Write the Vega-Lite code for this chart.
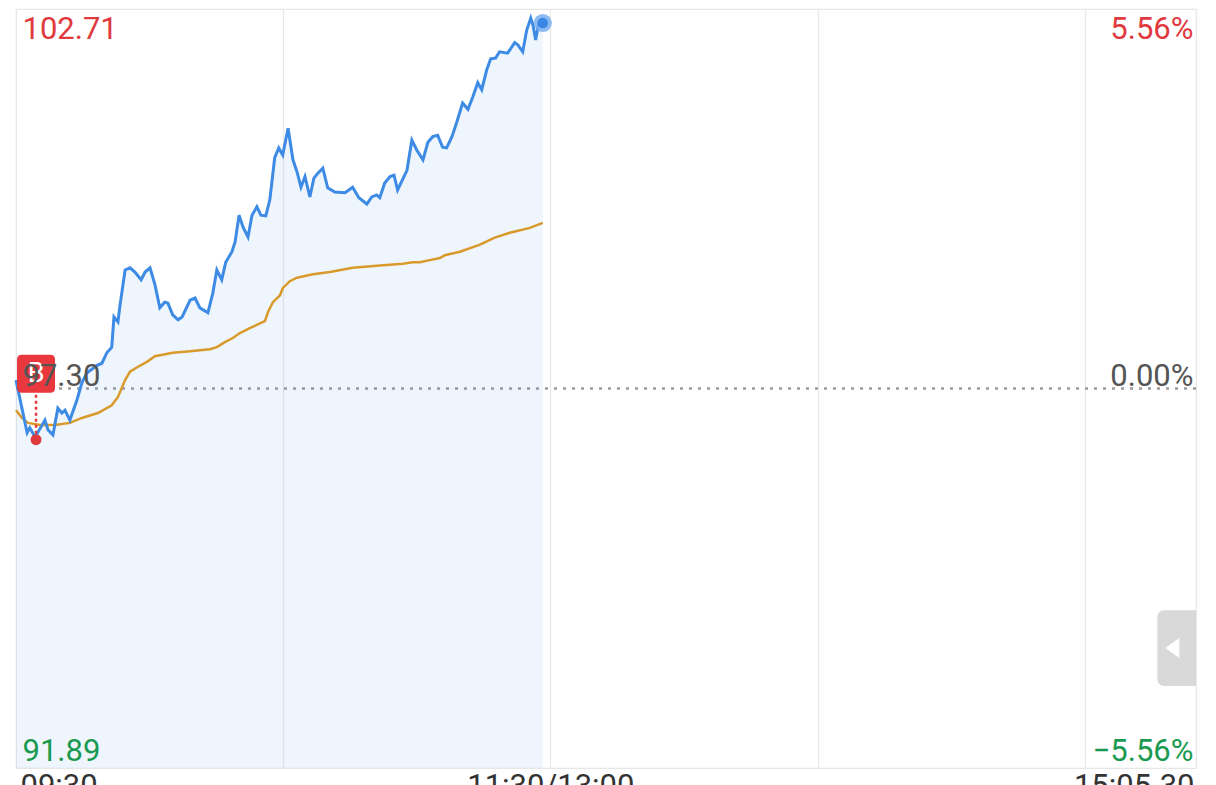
{
  "$schema": "https://vega.github.io/schema/vega-lite/v6.json",
  "width": 1180,
  "height": 759,
  "autosize": {"type": "none"},
  "padding": {"left": 16, "top": 9, "right": 20, "bottom": 17},
  "background": "white",
  "config": {"view": {"stroke": "#e6e6e6", "strokeWidth": 1.2}, "font": "Roboto"},
  "datasets": {
    "price": [
      {"t":0,"p":97.42},{"t":2.5,"p":96.67},{"t":3.1,"p":96.74},{"t":4.3,"p":96.61},{"t":6.5,"p":96.85},{"t":7.2,"p":96.71},{"t":8.3,"p":96.64},{"t":9.4,"p":97.02},{"t":10.3,"p":96.95},{"t":11.0,"p":96.99},{"t":12.1,"p":96.85},{"t":13.7,"p":97.14},{"t":14.8,"p":97.38},{"t":15.9,"p":97.52},{"t":18.2,"p":97.63},{"t":19.3,"p":97.66},{"t":20.4,"p":97.81},{"t":21.5,"p":97.89},{"t":22.0,"p":98.32},{"t":22.9,"p":98.25},{"t":23.3,"p":98.46},{"t":24.5,"p":98.99},{"t":25.6,"p":99.02},{"t":26.7,"p":98.96},{"t":28.1,"p":98.85},{"t":29.0,"p":98.96},{"t":30.1,"p":99.02},{"t":31.2,"p":98.78},{"t":32.3,"p":98.45},{"t":33.4,"p":98.53},{"t":34.1,"p":98.52},{"t":35.2,"p":98.35},{"t":36.4,"p":98.28},{"t":37.3,"p":98.32},{"t":39.1,"p":98.56},{"t":40.2,"p":98.59},{"t":41.3,"p":98.45},{"t":43.1,"p":98.38},{"t":44.2,"p":98.66},{"t":45.1,"p":98.99},{"t":46.2,"p":98.85},{"t":47.1,"p":99.10},{"t":48.5,"p":99.25},{"t":49.2,"p":99.39},{"t":50.1,"p":99.77},{"t":51.0,"p":99.60},{"t":52.1,"p":99.46},{"t":53.0,"p":99.77},{"t":54.1,"p":99.89},{"t":55.0,"p":99.77},{"t":56.1,"p":99.76},{"t":57.0,"p":99.99},{"t":58.1,"p":100.59},{"t":59.0,"p":100.73},{"t":59.9,"p":100.63},{"t":61.1,"p":101.01},{"t":62.2,"p":100.56},{"t":63.1,"p":100.39},{"t":64.0,"p":100.17},{"t":64.9,"p":100.32},{"t":66.0,"p":100.03},{"t":66.9,"p":100.30},{"t":67.8,"p":100.37},{"t":68.9,"p":100.44},{"t":70.0,"p":100.16},{"t":71.6,"p":100.10},{"t":73.9,"p":100.09},{"t":75.6,"p":100.17},{"t":77.0,"p":100.02},{"t":78.8,"p":99.93},{"t":79.9,"p":100.03},{"t":81.0,"p":100.06},{"t":81.7,"p":100.02},{"t":82.8,"p":100.23},{"t":84.0,"p":100.32},{"t":84.9,"p":100.34},{"t":85.7,"p":100.13},{"t":87.8,"p":100.41},{"t":88.9,"p":100.84},{"t":90.0,"p":100.70},{"t":91.4,"p":100.56},{"t":92.5,"p":100.81},{"t":93.6,"p":100.89},{"t":94.7,"p":100.91},{"t":95.8,"p":100.74},{"t":96.7,"p":100.73},{"t":97.9,"p":100.89},{"t":99.0,"p":101.10},{"t":100.3,"p":101.37},{"t":101.5,"p":101.28},{"t":102.6,"p":101.46},{"t":103.7,"p":101.66},{"t":104.6,"p":101.56},{"t":105.7,"p":101.84},{"t":106.6,"p":102.00},{"t":107.7,"p":102.01},{"t":108.6,"p":102.10},{"t":110.4,"p":102.08},{"t":112.0,"p":102.23},{"t":112.7,"p":102.20},{"t":113.8,"p":102.10},{"t":114.7,"p":102.41},{"t":115.6,"p":102.58},{"t":116.1,"p":102.48},{"t":116.7,"p":102.27},{"t":117.4,"p":102.51},{"t":118.3,"p":102.51}
    ],
    "avg": [
      {"t":0,"p":96.99},{"t":1.35,"p":96.88},{"t":2.7,"p":96.81},{"t":5.4,"p":96.78},{"t":8.75,"p":96.78},{"t":12.1,"p":96.81},{"t":14.8,"p":96.88},{"t":18.4,"p":96.95},{"t":21.5,"p":97.06},{"t":22.9,"p":97.18},{"t":24.5,"p":97.42},{"t":25.6,"p":97.54},{"t":27.4,"p":97.61},{"t":29.4,"p":97.68},{"t":31.2,"p":97.76},{"t":35.2,"p":97.81},{"t":39.1,"p":97.83},{"t":43.5,"p":97.86},{"t":45.1,"p":97.89},{"t":46.9,"p":97.96},{"t":48.7,"p":98.02},{"t":50.3,"p":98.09},{"t":52.5,"p":98.16},{"t":55.9,"p":98.26},{"t":56.6,"p":98.39},{"t":57.7,"p":98.53},{"t":59.3,"p":98.63},{"t":59.9,"p":98.73},{"t":61.5,"p":98.83},{"t":63.1,"p":98.88},{"t":66.7,"p":98.93},{"t":70.5,"p":98.96},{"t":75.6,"p":99.02},{"t":81.0,"p":99.05},{"t":86.9,"p":99.08},{"t":89.1,"p":99.10},{"t":90.7,"p":99.10},{"t":92.9,"p":99.13},{"t":95.2,"p":99.16},{"t":96.3,"p":99.20},{"t":99.7,"p":99.25},{"t":104.2,"p":99.35},{"t":107.5,"p":99.45},{"t":110.9,"p":99.52},{"t":115.4,"p":99.59},{"t":118.3,"p":99.66}
    ]
  },
  "layer": [
    {
      "data": {"values": [{}]},
      "mark": {"type": "rule", "strokeDash": [3, 6], "strokeWidth": 2.5, "color": "#9b9b9b"},
      "encoding": {
        "y": {
          "datum": 0, "type": "quantitative",
          "scale": {"domain": [-5.56, 5.56], "nice": false, "zero": false},
          "axis": {
            "orient": "right", "title": null, "values": [-5.56, 0, 5.56],
            "labelExpr": "format(datum.value, '.2f') + '%'",
            "domain": false, "ticks": false, "tickSize": 0, "grid": false,
            "labelAlign": "right", "labelPadding": -3, "labelFont": "Roboto", "labelFontSize": 31,
            "labelColor": {"condition": [{"test": "datum.value > 1", "value": "#e0393e"}, {"test": "datum.value < -1", "value": "#1a9a50"}], "value": "#555555"},
            "labelBaseline": {"condition": {"test": "datum.value > 1", "value": "top"}, "value": "alphabetic"},
            "labelOffset": {"condition": [{"test": "datum.value > 1", "value": 5}, {"test": "datum.value < -1", "value": -8}], "value": -3},
            "labelOverlap": false, "labelBound": false, "zindex": 1
          }
        }
      }
    },
    {
      "layer": [
        {
          "data": {"name": "price"},
          "mark": {"type": "area", "color": "#3d8be4", "opacity": 0.09},
          "encoding": {
            "x": {
              "field": "t", "type": "quantitative",
              "scale": {"domain": [0, 265], "nice": false, "zero": false},
              "axis": {
                "orient": "bottom", "title": null, "values": [0, 60, 120, 180, 240, 265],
                "labelExpr": "datum.value == 0 ? '09:30' : datum.value == 120 ? '11:30/13:00' : datum.value == 265 ? '15:05-30' : ''",
                "domain": false, "ticks": false, "tickSize": 0, "labelPadding": 3,
                "labelAlign": {"condition": [{"test": "datum.value == 0", "value": "left"}, {"test": "datum.value > 250", "value": "right"}], "value": "center"},
                "labelOffset": {"condition": [{"test": "datum.value == 0", "value": 4}, {"test": "datum.value > 250", "value": -2}], "value": 0},
                "labelBaseline": "top", "labelFont": "Roboto", "labelFontSize": 31, "labelColor": "#333333",
                "labelOverlap": false, "labelBound": false, "labelFlush": false,
                "grid": true,
                "gridColor": {"condition": {"test": "datum.value == 0 || datum.value == 265", "value": "transparent"}, "value": "#e8e8e8"},
                "gridWidth": 1.2
              }
            },
            "y": {
              "field": "p", "type": "quantitative",
              "scale": {"domain": [91.89, 102.71], "nice": false, "zero": false},
              "axis": {
                "orient": "left", "title": null, "values": [91.89, 97.3, 102.71], "format": ".2f",
                "domain": false, "ticks": false, "tickSize": 0, "grid": false,
                "labelAlign": "left", "labelPadding": -6, "labelFont": "Roboto", "labelFontSize": 31,
                "labelColor": {"condition": [{"test": "datum.value > 100", "value": "#e0393e"}, {"test": "datum.value < 95", "value": "#1a9a50"}], "value": "#555555"},
                "labelBaseline": {"condition": {"test": "datum.value > 100", "value": "top"}, "value": "alphabetic"},
                "labelOffset": {"condition": [{"test": "datum.value > 100", "value": 5}, {"test": "datum.value < 95", "value": -8}], "value": -3},
                "labelOverlap": false, "labelBound": false, "zindex": 1
              }
            },
            "y2": {"datum": 91.89}
          }
        },
        {
          "data": {"name": "avg"},
          "mark": {"type": "line", "color": "#d99a2b", "strokeWidth": 2.5},
          "encoding": {
            "x": {"field": "t", "type": "quantitative", "scale": {"domain": [0, 265], "nice": false, "zero": false}},
            "y": {"field": "p", "type": "quantitative", "scale": {"domain": [91.89, 102.71], "nice": false, "zero": false}}
          }
        },
        {
          "data": {"name": "price"},
          "mark": {"type": "line", "color": "#3d8be4", "strokeWidth": 3},
          "encoding": {
            "x": {"field": "t", "type": "quantitative", "scale": {"domain": [0, 265], "nice": false, "zero": false}},
            "y": {"field": "p", "type": "quantitative", "scale": {"domain": [91.89, 102.71], "nice": false, "zero": false}}
          }
        },
        {
          "data": {"values": [{"t": 118.3, "p": 102.51}]},
          "mark": {"type": "point", "shape": "circle", "filled": true, "size": 330, "color": "#79aef0", "opacity": 0.85},
          "encoding": {
            "x": {"field": "t", "type": "quantitative", "scale": {"domain": [0, 265], "nice": false, "zero": false}},
            "y": {"field": "p", "type": "quantitative", "scale": {"domain": [91.89, 102.71], "nice": false, "zero": false}}
          }
        },
        {
          "data": {"values": [{"t": 118.3, "p": 102.51}]},
          "mark": {"type": "point", "shape": "circle", "filled": true, "size": 110, "color": "#3a86e4", "opacity": 1},
          "encoding": {
            "x": {"field": "t", "type": "quantitative", "scale": {"domain": [0, 265], "nice": false, "zero": false}},
            "y": {"field": "p", "type": "quantitative", "scale": {"domain": [91.89, 102.71], "nice": false, "zero": false}}
          }
        },
        {
          "data": {"values": [{"t": 4.5, "p": 96.57, "p2": 97.5}]},
          "mark": {"type": "rule", "color": "#e0393e", "strokeWidth": 2.5, "strokeDash": [3, 3]},
          "encoding": {
            "x": {"field": "t", "type": "quantitative", "scale": {"domain": [0, 265], "nice": false, "zero": false}},
            "y": {"field": "p", "type": "quantitative", "scale": {"domain": [91.89, 102.71], "nice": false, "zero": false}},
            "y2": {"field": "p2"}
          }
        },
        {
          "data": {"values": [{"t": 4.5, "p": 96.57}]},
          "mark": {"type": "point", "shape": "circle", "filled": true, "size": 120, "color": "#e0393e", "opacity": 1},
          "encoding": {
            "x": {"field": "t", "type": "quantitative", "scale": {"domain": [0, 265], "nice": false, "zero": false}},
            "y": {"field": "p", "type": "quantitative", "scale": {"domain": [91.89, 102.71], "nice": false, "zero": false}}
          }
        },
        {
          "data": {"values": [{"t": 4.5, "p": 97.51, "label": "B"}]},
          "mark": {"type": "point", "shape": "M -1 -0.75 Q -1 -1 -0.75 -1 L 0.75 -1 Q 1 -1 1 -0.75 L 1 0.75 Q 1 1 0.75 1 L -0.75 1 Q -1 1 -1 0.75 Z", "filled": true, "size": 1444, "color": "#e8383d", "opacity": 1},
          "encoding": {
            "x": {"field": "t", "type": "quantitative", "scale": {"domain": [0, 265], "nice": false, "zero": false}},
            "y": {"field": "p", "type": "quantitative", "scale": {"domain": [91.89, 102.71], "nice": false, "zero": false}}
          }
        },
        {
          "data": {"values": [{"t": 4.5, "p": 97.51, "label": "B"}]},
          "mark": {"type": "text", "color": "white", "font": "Roboto", "fontSize": 27, "align": "center", "baseline": "middle"},
          "encoding": {
            "x": {"field": "t", "type": "quantitative", "scale": {"domain": [0, 265], "nice": false, "zero": false}},
            "y": {"field": "p", "type": "quantitative", "scale": {"domain": [91.89, 102.71], "nice": false, "zero": false}},
            "text": {"field": "label"}
          }
        },
        {
          "data": {"values": [{}]},
          "mark": {"type": "rect", "color": "#d9d9d9", "cornerRadiusTopLeft": 7, "cornerRadiusBottomLeft": 7},
          "encoding": {
            "x": {"datum": 256.3, "type": "quantitative", "scale": {"domain": [0, 265], "nice": false, "zero": false}},
            "x2": {"datum": 265},
            "y": {"datum": 94.14, "type": "quantitative", "scale": {"domain": [91.89, 102.71], "nice": false, "zero": false}},
            "y2": {"datum": 93.06}
          }
        },
        {
          "data": {"values": [{}]},
          "mark": {"type": "point", "shape": "M 0.6 -1 L 0.6 1 L -0.8 0 Z", "filled": true, "size": 400, "color": "white", "opacity": 1},
          "encoding": {
            "x": {"datum": 259.9, "type": "quantitative", "scale": {"domain": [0, 265], "nice": false, "zero": false}},
            "y": {"datum": 93.6, "type": "quantitative", "scale": {"domain": [91.89, 102.71], "nice": false, "zero": false}}
          }
        }
      ]
    }
  ],
  "resolve": {"scale": {"y": "independent"}, "axis": {"y": "independent"}}
}
